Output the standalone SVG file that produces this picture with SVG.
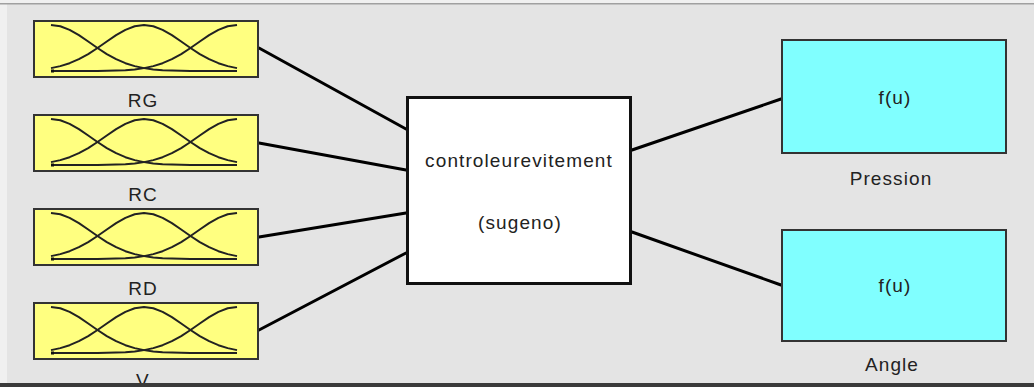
<svg xmlns="http://www.w3.org/2000/svg" xmlns:xlink="http://www.w3.org/1999/xlink" width="1034" height="387" viewBox="0 0 1034 387">
<style>
.in{fill:#ffff80;stroke:#333;stroke-width:2}
.out{fill:#80ffff;stroke:#333;stroke-width:2}
.mid{fill:#fff;stroke:#111;stroke-width:3}
.mf{fill:none;stroke:#222;stroke-width:2;stroke-linejoin:round}
.t{font-family:"Liberation Sans",Arial,sans-serif;font-size:19px;letter-spacing:1.1px;fill:#222;text-anchor:middle}
.c{stroke:#000;stroke-width:3;fill:none;stroke-linecap:round}
</style>
<defs>
<g id="mf">
<path class="mf" d="M0,0 L9.3,1.26 L18.6,4.83 L27.9,10.15 L37.2,16.48 L46.5,23 L55.8,29.04 L65.1,34.17 L74.4,38.19 L83.7,41.13 L93,43.12 L102.3,44.39 L111.6,45.15 L120.9,45.57 L130.2,45.8 L139.5,45.91 L148.8,46 L186,46"/>
<path class="mf" d="M186,0 L176.7,1.26 L167.4,4.83 L158.1,10.15 L148.8,16.48 L139.5,23 L130.2,29.04 L120.9,34.17 L111.6,38.19 L102.3,41.13 L93,43.12 L83.7,44.39 L74.4,45.15 L65.1,45.57 L55.8,45.8 L46.5,45.91 L37.2,46 L0,46"/>
<path class="mf" d="M0,43.12 L9.3,41.13 L18.6,38.19 L27.9,34.17 L37.2,29.04 L46.5,23 L55.8,16.48 L65.1,10.15 L74.4,4.83 L83.7,1.26 L93,0 L102.3,1.26 L111.6,4.83 L120.9,10.15 L130.2,16.48 L139.5,23 L148.8,29.04 L158.1,34.17 L167.4,38.19 L176.7,41.13 L186,43.12"/>
<rect x="0" y="44.5" width="3" height="3" fill="#111"/>
</g>
</defs>
<rect x="0" y="0" width="1034" height="387" fill="#e4e4e4"/>
<rect x="0" y="0" width="1034" height="3" fill="#f0f0f0"/>
<rect x="0" y="0" width="7" height="387" fill="#f0f0f0"/>
<rect x="0" y="3" width="1034" height="1.5" fill="#a0a0a0"/>

<g id="connectors">
<line class="c" x1="259" y1="48" x2="406" y2="129"/>
<line class="c" x1="259" y1="143" x2="406" y2="170"/>
<line class="c" x1="259" y1="237" x2="406" y2="213"/>
<line class="c" x1="259" y1="330" x2="406" y2="253"/>
<line class="c" x1="632" y1="150" x2="781" y2="99"/>
<line class="c" x1="632" y1="232" x2="781" y2="285"/>
</g>

<g id="RG">
<rect class="in" x="34" y="21" width="224" height="56"/>
<use xlink:href="#mf" href="#mf" transform="translate(51,25)"/>
<text class="t" x="143" y="107">RG</text>
</g>
<g id="RC">
<rect class="in" x="34" y="115" width="224" height="56"/>
<use xlink:href="#mf" href="#mf" transform="translate(51,119)"/>
<text class="t" x="143" y="201">RC</text>
</g>
<g id="RD">
<rect class="in" x="34" y="209" width="224" height="56"/>
<use xlink:href="#mf" href="#mf" transform="translate(51,213)"/>
<text class="t" x="143" y="295">RD</text>
</g>
<g id="V">
<rect class="in" x="34" y="303" width="224" height="56"/>
<use xlink:href="#mf" href="#mf" transform="translate(51,307)"/>
<text class="t" x="143" y="387">V</text>
</g>

<g id="controller">
<rect class="mid" x="407.5" y="97.5" width="223" height="186"/>
<text class="t" x="519" y="167">controleurevitement</text>
<text class="t" x="520" y="229">(sugeno)</text>
</g>

<g id="Pression">
<rect class="out" x="782" y="40" width="224" height="113"/>
<text class="t" x="895" y="104">f(u)</text>
<text class="t" x="891" y="185">Pression</text>
</g>
<g id="Angle">
<rect class="out" x="782" y="230" width="224" height="111"/>
<text class="t" x="895" y="292">f(u)</text>
<text class="t" x="892" y="371">Angle</text>
</g>

<rect x="0" y="383" width="1034" height="4" fill="#3a3a3a"/>
</svg>
